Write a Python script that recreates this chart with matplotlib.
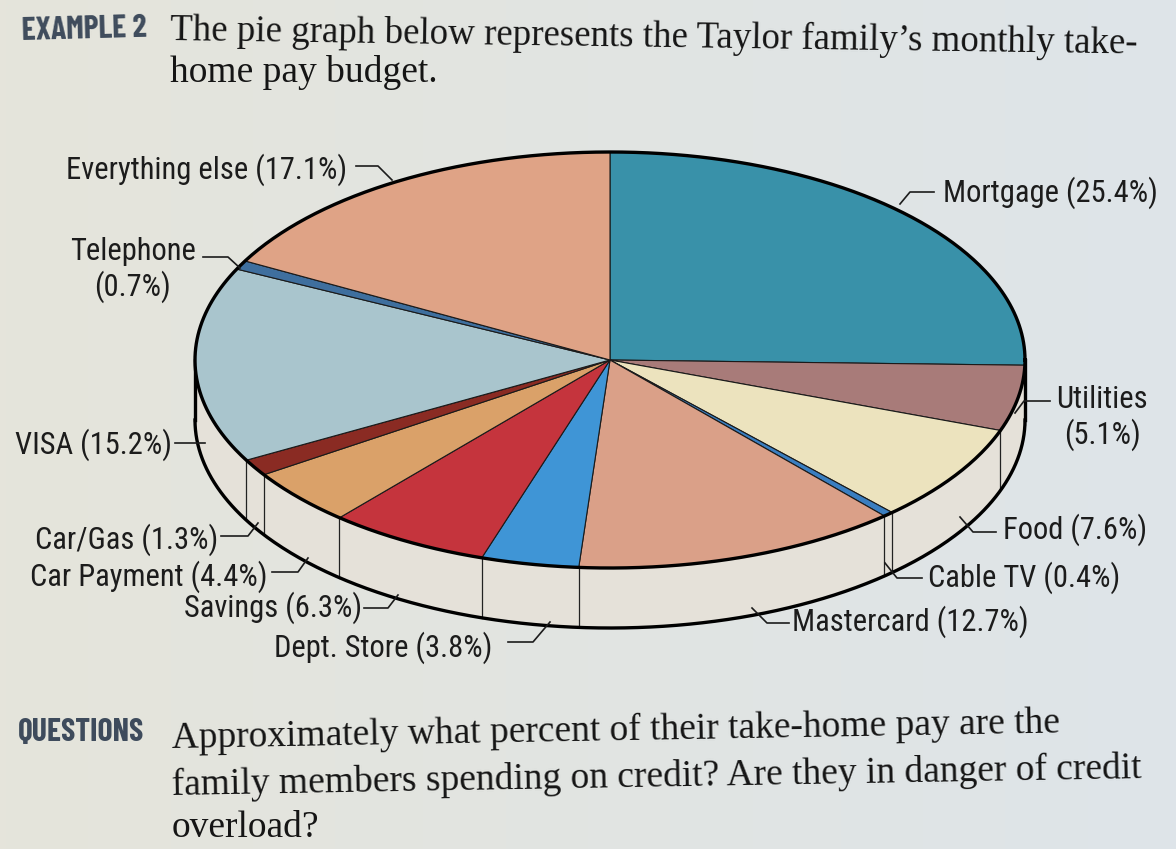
import numpy as np
import matplotlib.pyplot as plt
from matplotlib.patches import Polygon
from matplotlib import font_manager

# budget shares, clockwise from 12 o'clock
categories = ["Mortgage", "Utilities", "Food", "Cable TV", "Mastercard",
              "Dept. Store", "Savings", "Car Payment", "Car/Gas", "VISA",
              "Telephone", "Everything else"]
shares = [25.4, 5.1, 7.6, 0.4, 12.7, 3.8, 6.3, 4.4, 1.3, 15.2, 0.7, 17.1]
colors = ["#3991a9", "#a87b79", "#ece3be", "#3a7ec0", "#daa088", "#3f95d6",
          "#c5343d", "#daa169", "#8a2b23", "#a9c5cd", "#3f6f9e", "#dfa386"]
two_line = ["Telephone", "Utilities"]

# label placement (x, y, ha) and leader polylines, pixel coords
label_pos = {
    "Mortgage": (943, 193, "left"),
    "Utilities": (1102, 418, "center"),
    "Food": (1003, 530, "left"),
    "Cable TV": (928, 578, "left"),
    "Mastercard": (792, 622, "left"),
    "Dept. Store": (492, 648, "right"),
    "Savings": (362, 608, "right"),
    "Car Payment": (268, 577, "right"),
    "Car/Gas": (218, 540, "right"),
    "VISA": (172, 445, "right"),
    "Telephone": (133, 270, "center"),
    "Everything else": (347, 170, "right"),
}
leaders = {
    "Mortgage": [(934, 192), (910, 192), (900, 204)],
    "Utilities": [(1050, 401), (1024, 401), (1015, 413)],
    "Food": [(996, 532), (973, 532), (960, 517)],
    "Cable TV": [(922, 578), (897, 578), (885, 563)],
    "Mastercard": [(789, 623), (767, 623), (752, 608)],
    "Dept. Store": [(508, 642), (533, 642), (550, 622)],
    "Savings": [(364, 608), (388, 608), (398, 595)],
    "Car Payment": [(272, 572), (298, 572), (308, 558)],
    "Car/Gas": [(221, 536), (248, 536), (258, 523)],
    "VISA": [(175, 443), (205, 443)],
    "Telephone": [(203, 257), (228, 257), (240, 268)],
    "Everything else": [(356, 166), (378, 166), (392, 180)],
}

cx, cy, rx, ry, depth = 610, 360, 415, 208, 60

have = {f.name for f in font_manager.fontManager.ttflist}
narrow = [f for f in ["Roboto Condensed", "Archivo Narrow", "PT Sans Narrow",
                      "Asap Condensed"] if f in have]
label_font = narrow[:1] + ["DejaVu Sans"]
head = [f for f in ["Barlow Condensed", "Roboto Condensed"] if f in have]
head_font = head[:1] + ["DejaVu Sans"]
serif_font = ["Liberation Serif", "DejaVu Serif"]

fig = plt.figure(figsize=(11.76, 8.49), dpi=100)
ax = fig.add_axes([0, 0, 1, 1])
ax.set_xlim(0, 1176)
ax.set_ylim(849, 0)
ax.axis("off")

# paper background, warm on the left, cooler on the right
left = np.array([229, 228, 219]) / 255
right = np.array([222, 228, 233]) / 255
w = np.linspace(0, 1, 200)[None, :, None]
grad = np.repeat(left + (right - left) * w, 2, axis=0)
ax.imshow(grad, extent=[0, 1176, 849, 0], aspect="auto", zorder=0)


def ell(t, dy=0):
    return cx + rx * np.cos(t), cy - ry * np.sin(t) + dy


# side wall
t = np.linspace(0, -np.pi, 400)
xt, yt = ell(t)
xb, yb = ell(t[::-1], depth)
wall = np.column_stack([np.r_[xt, xb], np.r_[yt, yb]])
ax.add_patch(Polygon(wall, closed=True, fc="#e5e1d9", ec="none", zorder=1))
ax.plot(*ell(t, depth), color="black", lw=2.4, zorder=3)
for tx in (0, -np.pi):
    x0, y0 = ell(tx)
    ax.plot([x0, x0], [y0, y0 + depth], color="black", lw=2.4, zorder=3)

cum = np.cumsum([0] + shares)
angles = np.deg2rad(90 - cum * 3.6)
for a in angles[1:-1]:
    if np.sin(a) < 0:
        x0, y0 = ell(a)
        ax.plot([x0, x0], [y0, y0 + depth], color="#222222", lw=0.9, zorder=2)

# top face
for i in range(len(shares)):
    tt = np.linspace(angles[i], angles[i + 1], 120)
    xs, ys = ell(tt)
    pts = np.column_stack([np.r_[cx, xs], np.r_[cy, ys]])
    ax.add_patch(Polygon(pts, closed=True, fc=colors[i], ec="#1a1a1a",
                         lw=0.8, zorder=4))
tf = np.linspace(0, 2 * np.pi, 600)
ax.plot(*ell(tf), color="black", lw=2.4, zorder=5)

# labels
for name, share in zip(categories, shares):
    sep = "\n" if name in two_line else " "
    x, y, ha = label_pos[name]
    ax.text(x, y, f"{name}{sep}({share}%)", ha=ha, va="center",
            multialignment="center", fontsize=22, family=label_font,
            color="#1c1c1c", zorder=6, linespacing=1.15)
    lx, ly = zip(*leaders[name])
    ax.plot(lx, ly, color="#1c1c1c", lw=1.2, zorder=6)

# heading and questions
ax.text(22, 32, "EXAMPLE 2", fontsize=23, fontweight="bold", family=head_font,
        color="#3e4b5c", va="center", ha="left", rotation=1.5,
        rotation_mode="anchor")
ax.text(170, 30, "The pie graph below represents the Taylor family\u2019s monthly take-",
        fontsize=26.6, family=serif_font, color="#151515", va="center", ha="left",
        rotation=-0.8, rotation_mode="anchor")
ax.text(170, 72, "home pay budget.", fontsize=27, family=serif_font,
        color="#151515", va="center", ha="left")

ax.text(18, 733, "QUESTIONS", fontsize=23, fontweight="bold", family=head_font,
        color="#3e4b5c", va="center", ha="left")
q_lines = ["Approximately what percent of their take-home pay are the",
           "family members spending on credit? Are they in danger of credit",
           "overload?"]
q_y = [738, 785, 828]
for k, line in enumerate(q_lines):
    ax.text(172, q_y[k], line, fontsize=27,
            family=serif_font, color="#151515", va="center", ha="left",
            rotation=1.0 if k < 2 else 0, rotation_mode="anchor")

fig.savefig("out.png", dpi=100)
